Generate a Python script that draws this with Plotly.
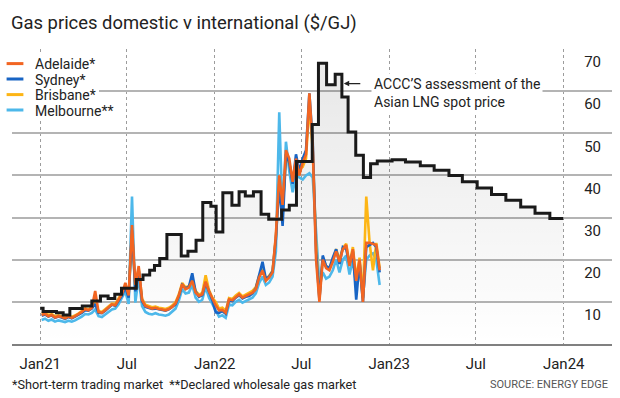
import plotly.graph_objects as go
import pandas as pd

title_text = "Gas prices domestic v international ($/GJ)"
x_tick_dates = ["2021-01-01", "2021-07-01", "2022-01-01", "2022-07-01",
                "2023-01-01", "2023-07-01", "2024-01-01"]
x_tick_labels = ["Jan21", "Jul", "Jan22", "Jul", "Jan23", "Jul", "Jan24"]
y_ticks = [10, 20, 30, 40, 50, 60, 70]

# ACCC's assessment of the Asian LNG spot price (step series)
accc_dates = [
    "2021-01-01", "2021-01-07", "2021-02-04", "2021-02-18", "2021-03-04",
    "2021-03-30", "2021-04-19", "2021-05-07", "2021-05-23", "2021-06-06",
    "2021-06-20", "2021-07-21", "2021-08-04", "2021-08-18", "2021-08-28",
    "2021-09-08", "2021-09-23", "2021-10-23", "2021-11-06", "2021-11-23",
    "2021-12-07", "2021-12-24", "2022-01-04", "2022-01-18", "2022-02-06",
    "2022-02-21", "2022-03-06", "2022-03-23", "2022-04-08", "2022-04-24",
    "2022-05-21", "2022-06-06", "2022-06-21", "2022-07-24", "2022-08-06",
    "2022-08-23", "2022-09-10", "2022-09-24", "2022-10-07", "2022-10-23",
    "2022-11-08", "2022-11-23", "2022-12-07", "2023-01-07", "2023-02-04",
    "2023-03-07", "2023-04-05", "2023-05-06", "2023-06-03", "2023-07-04",
    "2023-08-03", "2023-09-02", "2023-10-03", "2023-11-02", "2023-12-03",
    "2023-12-31",
]
accc_values = [
    8.5, 7.7, 7.4, 6.9, 8.4,
    9.0, 10.2, 11.4, 10.8, 11.8,
    13.2, 15.3, 16.4, 17.5, 18.6,
    20.3, 26.0, 20.9, 22.0, 24.6,
    33.6, 32.7, 26.6, 35.9, 32.9,
    36.1, 35.1, 36.1, 30.8, 29.6,
    31.8, 32.9, 43.3, 52.1, 66.6,
    61.5, 64.0, 58.6, 50.3, 44.8,
    39.5, 42.8, 43.4, 43.7, 43.2,
    42.3, 41.2, 40.0, 38.5, 37.0,
    35.5, 34.1, 32.5, 31.0, 29.8,
    29.8,
]

# Weekly domestic spot prices, starting 2021-01-04
city_start = "2021-01-04"
adelaide = [
    6.9, 7.2, 6.6, 6.9, 6.3, 6.6, 6.4, 6.1, 6.5, 6.2,
    6.6, 7.0, 7.6, 8.3, 8.0, 8.6, 12.6, 7.6, 7.4, 8.0,
    8.8, 9.4, 9.2, 10.4, 11.8, 14.5, 11.5, 28.2, 14.0, 18.5,
    10.5, 9.0, 8.7, 8.4, 8.6, 8.3, 8.2, 8.0, 8.3, 8.8,
    9.6, 11.5, 14.2, 13.0, 13.4, 15.0, 12.2, 11.4, 11.8, 14.8,
    12.5, 10.8, 9.2, 8.0, 8.1, 7.4, 10.6, 10.4, 11.2, 11.8,
    11.0, 11.4, 11.6, 12.2, 13.0, 15.8, 17.4, 15.0, 15.8, 17.0,
    26.0, 40.0, 33.0, 46.0, 44.0, 38.5, 44.0, 40.0, 43.0, 45.0,
    59.5, 47.0, 20.0, 10.0, 20.0, 18.0, 17.5, 19.5, 22.0, 19.5,
    22.5, 23.5, 18.5, 22.5, 15.0, 20.0, 10.0, 24.0, 24.0, 23.8,
    23.5, 17.5,
]
sydney = [
    6.7, 7.0, 6.5, 6.8, 6.2, 6.5, 6.3, 6.0, 6.4, 6.1,
    6.5, 6.9, 7.4, 8.0, 7.9, 8.4, 9.5, 7.4, 7.3, 7.9,
    8.6, 9.3, 9.1, 10.2, 11.5, 13.5, 11.0, 27.0, 12.5, 17.5,
    10.2, 8.8, 8.5, 8.3, 8.4, 8.2, 8.0, 7.9, 8.2, 8.7,
    9.4, 11.3, 14.0, 13.2, 13.6, 16.8, 12.4, 11.2, 11.6, 14.5,
    12.2, 10.4, 7.5, 7.4, 7.8, 7.2, 10.4, 10.2, 11.0, 11.6,
    10.8, 11.2, 11.4, 12.0, 13.2, 16.5, 19.5, 15.4, 16.0, 17.2,
    25.0, 38.0, 28.0, 45.0, 43.0, 38.0, 45.0, 41.0, 44.0, 46.0,
    59.5, 48.0, 22.0, 10.5, 21.0, 18.5, 18.0, 20.5, 22.5, 19.0,
    23.0, 22.5, 19.0, 22.0, 10.5, 19.5, 10.0, 23.0, 23.5, 24.0,
    23.0, 17.0,
]
brisbane = [
    7.3, 7.4, 6.9, 7.1, 6.6, 6.8, 6.6, 6.4, 6.7, 6.4,
    6.8, 7.2, 7.8, 8.5, 8.2, 8.8, 10.0, 7.8, 7.6, 8.2,
    9.0, 9.6, 9.5, 10.7, 12.2, 13.8, 11.8, 26.0, 13.5, 18.0,
    10.8, 9.3, 9.0, 8.7, 8.9, 8.6, 8.5, 8.3, 8.6, 9.1,
    9.9, 11.8, 14.5, 13.4, 13.8, 15.2, 12.6, 11.7, 12.1, 16.3,
    12.8, 11.0, 10.0, 8.4, 8.6, 7.9, 10.9, 10.7, 11.5, 12.1,
    11.3, 11.7, 12.0, 12.6, 13.5, 16.2, 17.8, 15.4, 16.2, 17.4,
    25.5, 38.5, 32.0, 44.0, 43.0, 39.0, 43.0, 41.5, 42.0, 44.0,
    57.0, 46.0, 24.0, 11.0, 20.5, 18.5, 18.0, 20.0, 22.5, 20.0,
    22.8, 23.8, 19.0, 23.0, 15.5, 20.5, 11.0, 35.0, 24.0, 17.5,
    24.0, 18.0,
]
melbourne = [
    5.7, 6.0, 5.5, 5.8, 5.3, 5.6, 5.4, 5.2, 5.5, 5.3,
    5.6, 6.0, 6.5, 7.1, 7.0, 7.4, 8.2, 6.6, 6.4, 7.0,
    7.6, 8.2, 8.4, 9.4, 11.0, 12.5, 9.5, 35.0, 9.8, 16.0,
    9.0, 7.6, 7.2, 7.0, 7.3, 7.0, 6.9, 6.7, 7.0, 7.6,
    8.4, 10.3, 13.0, 12.0, 12.2, 14.0, 11.0, 10.0, 10.5, 13.5,
    11.0, 9.5, 7.8, 6.5, 6.8, 6.2, 9.4, 9.2, 10.0, 10.5,
    9.8, 10.2, 10.5, 11.0, 12.0, 14.5, 16.0, 14.0, 14.6, 16.0,
    22.0, 55.0, 30.0, 48.0, 41.0, 36.0, 40.0, 39.5, 39.0, 40.0,
    40.5, 39.5, 26.0, 14.0, 17.0, 15.5, 16.0, 17.5, 20.0, 17.0,
    20.0, 21.0, 16.5, 20.0, 14.0, 18.0, 11.0, 20.0, 21.0, 21.5,
    20.0, 14.0,
]
city_dates = pd.date_range(city_start, periods=len(adelaide), freq="7D")

city_names = ["Adelaide*", "Sydney*", "Brisbane*", "Melbourne**"]
city_colors = ["#F26522", "#1864C4", "#FDB515", "#4DB8EA"]
city_series = [adelaide, sydney, brisbane, melbourne]

FONT = "Roboto"
TXT = "#222222"

PLOT_L, PLOT_R, PLOT_T, PLOT_B = 12, 612, 49, 344
W, H = 620, 398
pw = PLOT_R - PLOT_L
ph = PLOT_B - PLOT_T


def px_x(px):
    return (px - PLOT_L) / pw


def px_y(py):
    return (PLOT_B - py) / ph


fig = go.Figure()

# shaded area under the ACCC line
fig.add_trace(go.Scatter(
    x=accc_dates, y=accc_values, mode="lines", line=dict(width=0, shape="hv"),
    fill="tozeroy",
    fillgradient=dict(type="vertical", start=0, stop=60,
                      colorscale=[[0, "rgba(0,0,0,0.0)"], [1, "rgba(0,0,0,0.085)"]]),
    showlegend=False, hoverinfo="skip",
))

# domestic city lines (drawn bottom to top)
for idx in [3, 2, 1, 0]:
    fig.add_trace(go.Scatter(
        x=city_dates, y=city_series[idx], mode="lines",
        line=dict(color=city_colors[idx], width=2.6),
        name=city_names[idx], showlegend=False,
    ))

# ACCC step line on top
fig.add_trace(go.Scatter(
    x=accc_dates, y=accc_values, mode="lines",
    line=dict(color="#1a1a1a", width=3, shape="hv"),
    showlegend=False, name="ACCC",
))

# legend keys: one small legend per city so the rows sit tightly
legend_ids = ["legend", "legend2", "legend3", "legend4"]
legend_rows_px = [64, 79.5, 95, 110.5]
legend_cfg = {}
for k, (name, color) in enumerate(zip(city_names, city_colors)):
    fig.add_trace(go.Scatter(
        x=[None], y=[None], mode="markers", name=name, legend=legend_ids[k],
        marker=dict(symbol="line-ew-open", size=12, color=color,
                    line=dict(color=color, width=3)),
    ))
    legend_cfg[legend_ids[k]] = dict(
        x=px_x(-5), xanchor="left", y=px_y(legend_rows_px[k]), yanchor="middle",
        bgcolor="rgba(0,0,0,0)", borderwidth=0,
        font=dict(family=FONT, size=14, color=TXT),
        itemclick=False, itemdoubleclick=False,
    )

fig.update_layout(
    width=W, height=H,
    margin=dict(l=PLOT_L, r=W - PLOT_R, t=PLOT_T, b=H - PLOT_B, pad=0, autoexpand=False),
    paper_bgcolor="white", plot_bgcolor="white",
    font=dict(family=FONT, color=TXT, size=14),
    title=dict(text=title_text, x=11 / W, xanchor="left", xref="container",
               y=1 - 23 / H, yanchor="middle", yref="container",
               font=dict(family=FONT, size=18.4, color=TXT)),
    showlegend=True,
    xaxis=dict(
        type="date", range=["2020-11-03", "2024-04-11"],
        tickvals=x_tick_dates, ticktext=x_tick_labels,
        showgrid=True, gridcolor="#9c9c9c", griddash="dot", gridwidth=1,
        showline=True, linecolor="#808080", linewidth=2,
        zeroline=False, ticks="", ticklabelstandoff=5,
        tickfont=dict(family=FONT, size=15, color=TXT),
        fixedrange=True,
    ),
    yaxis=dict(
        range=[0, 70], side="right", tickvals=y_ticks,
        ticklabelposition="inside", ticklabelshift=13, ticklabelstandoff=8,
        showgrid=True, gridcolor="#b4b4b4", gridwidth=1.5,
        zeroline=False, showline=False, ticks="",
        tickfont=dict(family=FONT, size=15, color=TXT),
        fixedrange=True,
    ),
    # white patch behind the legend so gridlines do not run through it
    shapes=[dict(type="rect", xref="paper", yref="paper", layer="above",
                 x0=px_x(0), x1=px_x(99), y0=px_y(118), y1=px_y(55),
                 fillcolor="white", line=dict(width=0))],
    **legend_cfg,
)

# ACCC label and arrow
fig.add_annotation(
    x="2022-09-28", y=61.8, ax=18, ay=0, text="", showarrow=True,
    arrowhead=2, arrowsize=0.9, arrowwidth=1.2, arrowcolor=TXT, standoff=0,
)
fig.add_annotation(
    x="2022-11-24", y=59.5, xanchor="left", yanchor="middle",
    text="ACCC\u2019S assessment of the<br>Asian LNG spot price",
    showarrow=False, align="left", bgcolor="white", borderpad=2,
    font=dict(family=FONT, size=14, color=TXT),
)

# footer
fig.add_annotation(
    xref="paper", yref="paper", x=px_x(10), y=px_y(384),
    xanchor="left", yanchor="middle", showarrow=False,
    text="*Short-term trading market  **Declared wholesale gas market",
    font=dict(family=FONT, size=12.7, color=TXT),
)
fig.add_annotation(
    xref="paper", yref="paper", x=px_x(610), y=px_y(384),
    xanchor="right", yanchor="middle", showarrow=False,
    text="SOURCE: ENERGY EDGE",
    font=dict(family=FONT, size=11, color="#555555"),
)

fig.write_html(
    "out.html",
    config={"displayModeBar": False},
    post_script="document.body.style.margin='0';document.body.style.padding='0';",
)
